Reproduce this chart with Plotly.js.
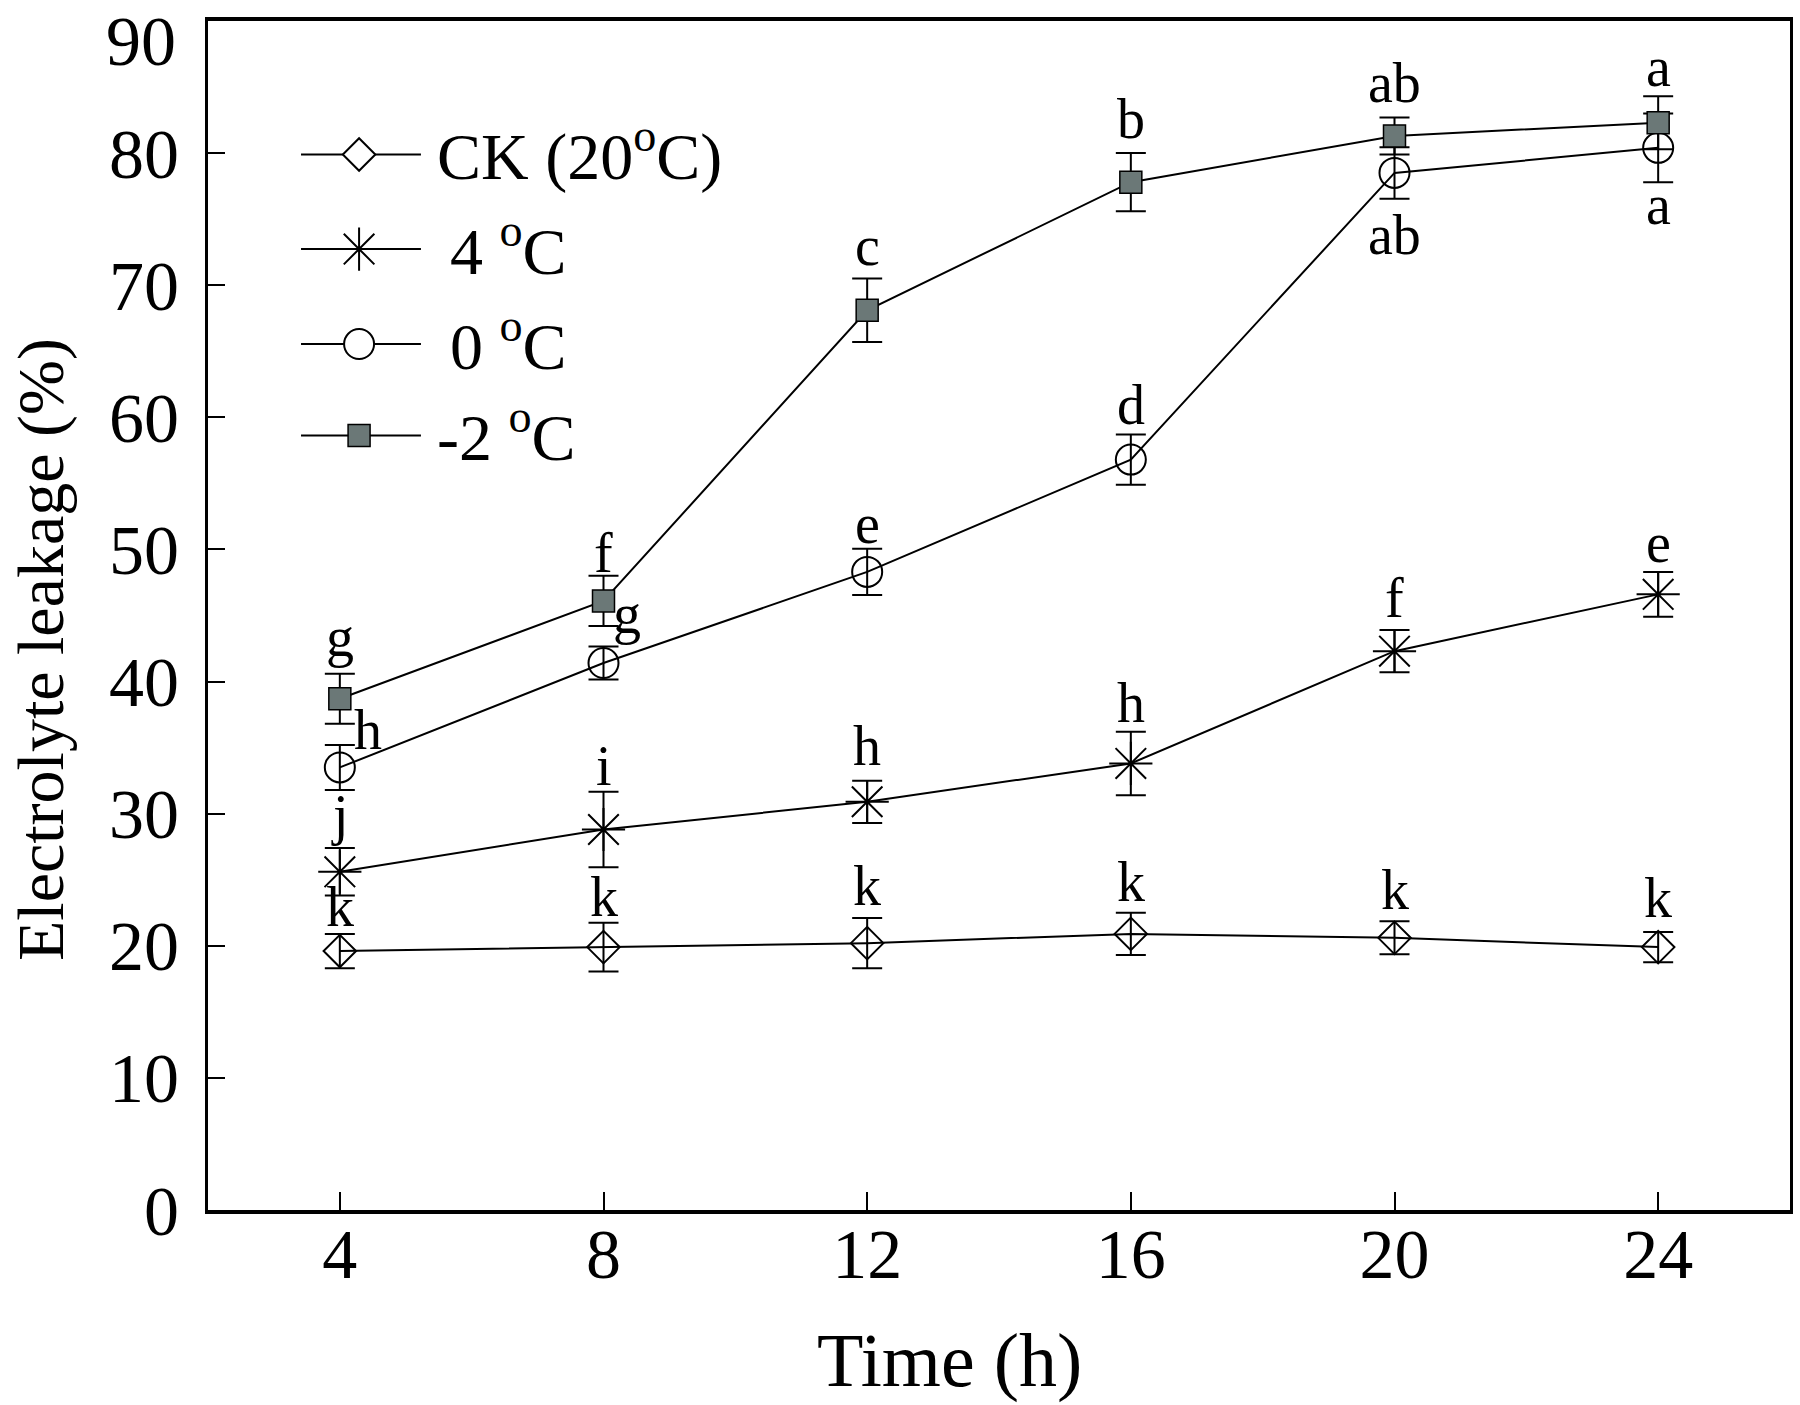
<!DOCTYPE html>
<html>
<head>
<meta charset="utf-8">
<script src="https://cdn.plot.ly/plotly-3.0.1.min.js"></script>
<style>html,body{margin:0;padding:0;background:#fff;}#chart{width:1800px;height:1405px;}</style>
</head>
<body>
<div id="chart"></div>
<script>
// ---- data ----
var timeH = [4, 8, 12, 16, 20, 24];
var xTickVals = [4, 8, 12, 16, 20, 24];
var yTickVals = [0, 10, 20, 30, 40, 50, 60, 70, 80, 90];

var seriesNames = ['CK (20<sup>o</sup>C)', '4 <sup>o</sup>C', '0 <sup>o</sup>C', '-2 <sup>o</sup>C'];

var ckVals  = [19.6, 19.9, 20.2, 20.9, 20.6, 19.9];
var ckErr   = [1.3, 1.85, 1.9, 1.6, 1.25, 1.15];
var t4Vals  = [25.6, 28.8, 30.9, 33.8, 42.3, 46.6];
var t4Err   = [1.8, 2.85, 1.6, 2.4, 1.6, 1.7];
var t0Vals  = [33.5, 41.4, 48.3, 56.8, 78.5, 80.4];
var t0Err   = [1.7, 1.25, 1.75, 1.9, 1.95, 2.6];
var tm2Vals = [38.7, 46.1, 68.1, 77.8, 81.3, 82.3];
var tm2Err  = [1.9, 1.9, 2.4, 2.2, 1.4, 2.0];

// significance letters (text) and where they sit (data units)
var ckLetters  = ['k', 'k', 'k', 'k', 'k', 'k'];
var ckLetterY  = [22.9, 23.7, 24.5, 24.8, 24.2, 23.6];
var t4Letters  = ['j', 'i', 'h', 'h', 'f', 'e'];
var t4LetterY  = [29.9, 33.6, 35.1, 38.4, 46.3, 50.5];
var t0Letters  = ['h', 'g', 'e', 'd', 'ab', 'a'];
var t0LetterX  = [4.42, 8.36, 12, 16, 20, 24];
var t0LetterY  = [36.3, 45.1, 51.9, 60.9, 73.8, 76.1];
var tm2Letters = ['g', 'f', 'c', 'b', 'ab', 'a'];
var tm2LetterY = [43.4, 49.7, 73.0, 82.6, 85.3, 86.5];

// ---- styling ----
var FONT = '"Liberation Serif", "Times New Roman", Times, serif';
var GRAY = '#6b7877';
var styles = [
  {symbol: 'diamond-open', size: 25, color: 'black', lw: 2, legendSymbol: 'diamond', legendFill: 'white'},
  {symbol: 'asterisk-open', size: 36, color: 'black', lw: 2, legendSymbol: 'asterisk-open', legendFill: 'black'},
  {symbol: 'circle-open', size: 30, color: 'black', lw: 2, legendSymbol: 'circle', legendFill: 'white'},
  {symbol: 'square', size: 22, color: GRAY, lw: 1.5, legendSymbol: 'square', legendFill: GRAY}
];
var yData = [ckVals, t4Vals, t0Vals, tm2Vals];
var eData = [ckErr, t4Err, t0Err, tm2Err];

var traces = [];
for (var i = 0; i < 4; i++) {
  var s = styles[i];
  traces.push({
    x: timeH, y: yData[i], type: 'scatter', mode: 'lines+markers',
    name: seriesNames[i], showlegend: false, hoverinfo: 'x+y',
    line: {color: 'black', width: 2},
    marker: {symbol: s.symbol, size: s.size, color: s.color,
             line: {color: 'black', width: s.lw}},
    error_y: {type: 'data', array: eData[i], visible: true, color: 'black', thickness: 2, width: 15}
  });
}

// ---- in-plot legend built on a hidden overlay axis (0..1 each way) ----
var legRows = [0.8877, 0.8082, 0.7283, 0.6514];
var legX0 = 0.0588, legXm = 0.0955, legX1 = 0.1346;
var legTextX = [0.1435, 0.152, 0.152, 0.1435];
for (var j = 0; j < 4; j++) {
  var st = styles[j];
  traces.push({
    x: [legX0, legX1], y: [legRows[j], legRows[j]], xaxis: 'x2', yaxis: 'y2',
    type: 'scatter', mode: 'lines', showlegend: false, hoverinfo: 'skip',
    line: {color: 'black', width: 2}
  });
  traces.push({
    x: [legXm], y: [legRows[j]], xaxis: 'x2', yaxis: 'y2',
    type: 'scatter', mode: 'markers', showlegend: false, hoverinfo: 'skip',
    marker: {symbol: st.legendSymbol, size: st.size, color: st.legendFill,
             line: {color: 'black', width: st.lw}}
  });
}

var annotations = [];
function addLetters(texts, xs, ys) {
  for (var k = 0; k < texts.length; k++) {
    annotations.push({
      x: xs[k], y: ys[k], xref: 'x', yref: 'y', text: texts[k], showarrow: false,
      xanchor: 'center', yanchor: 'middle', font: {family: FONT, size: 56, color: 'black'}
    });
  }
}
addLetters(ckLetters, timeH, ckLetterY);
addLetters(t4Letters, timeH, t4LetterY);
addLetters(t0Letters, t0LetterX, t0LetterY);
addLetters(tm2Letters, timeH, tm2LetterY);

for (var m = 0; m < 4; m++) {
  annotations.push({
    x: legTextX[m], y: legRows[m], xref: 'x2', yref: 'y2', text: seriesNames[m],
    showarrow: false, xanchor: 'left', yanchor: 'middle', yshift: 3,
    font: {family: FONT, size: 66, color: 'black'}
  });
}

var W = 1800, H = 1405;
var mL = 208, mR = 10, mT = 21, mB = 195;
var pw = W - mL - mR, ph = H - mT - mB;

// top y tick label: the reference keeps it inside the figure, just below the tick
var topTick = yTickVals[yTickVals.length - 1];
annotations.push({
  x: 0, y: topTick, xref: 'paper', yref: 'y', text: String(topTick), showarrow: false,
  xanchor: 'right', yanchor: 'top', xshift: -30, yshift: mT - 1,
  font: {family: FONT, size: 70, color: 'black'}
});

// axis titles (placed at the reference pixel positions)
annotations.push({
  x: (949 - mL) / pw, y: (H - mB - 1360) / ph, xref: 'paper', yref: 'paper',
  text: 'Time (h)', showarrow: false,
  font: {family: FONT, size: 76, color: 'black'}, xanchor: 'center', yanchor: 'middle'
});
annotations.push({
  x: (41 - mL) / pw, y: (H - mB - 650) / ph, xref: 'paper', yref: 'paper',
  text: 'Electrolyte leakage (%)', showarrow: false, textangle: -90,
  font: {family: FONT, size: 66, color: 'black'}, xanchor: 'center', yanchor: 'middle'
});

// axis ticks up to 80; the 90 label is the annotation above (the 90 tick sits on the frame)
var yAxisTicks = yTickVals.slice(0, yTickVals.length - 1);

var layout = {
  width: W, height: H,
  margin: {l: mL, r: mR, t: mT, b: mB, pad: 0},
  paper_bgcolor: 'white', plot_bgcolor: 'white',
  font: {family: FONT, color: 'black'},
  showlegend: false,
  xaxis: {
    range: [2, 26], tickmode: 'array', tickvals: xTickVals, ticktext: xTickVals.map(String),
    showgrid: false, zeroline: false, ticks: 'inside', ticklen: 18, tickwidth: 2, tickcolor: 'black',
    showline: true, linewidth: 4, linecolor: 'black', mirror: true,
    tickfont: {family: FONT, size: 70, color: 'black'}, ticklabelstandoff: -20
  },
  yaxis: {
    range: [0, 90], tickmode: 'array', tickvals: yAxisTicks, ticktext: yAxisTicks.map(String),
    showgrid: false, zeroline: false, ticks: 'inside', ticklen: 17, tickwidth: 2, tickcolor: 'black',
    showline: true, linewidth: 3, linecolor: 'black', mirror: true,
    tickfont: {family: FONT, size: 70, color: 'black'}, ticklabelstandoff: 12
  },
  xaxis2: {overlaying: 'x', range: [0, 1], visible: false, fixedrange: true},
  yaxis2: {overlaying: 'y', range: [0, 1], visible: false, fixedrange: true},
  annotations: annotations
};

Plotly.newPlot('chart', traces, layout, {displayModeBar: false, staticPlot: true});
</script>
</body>
</html>
